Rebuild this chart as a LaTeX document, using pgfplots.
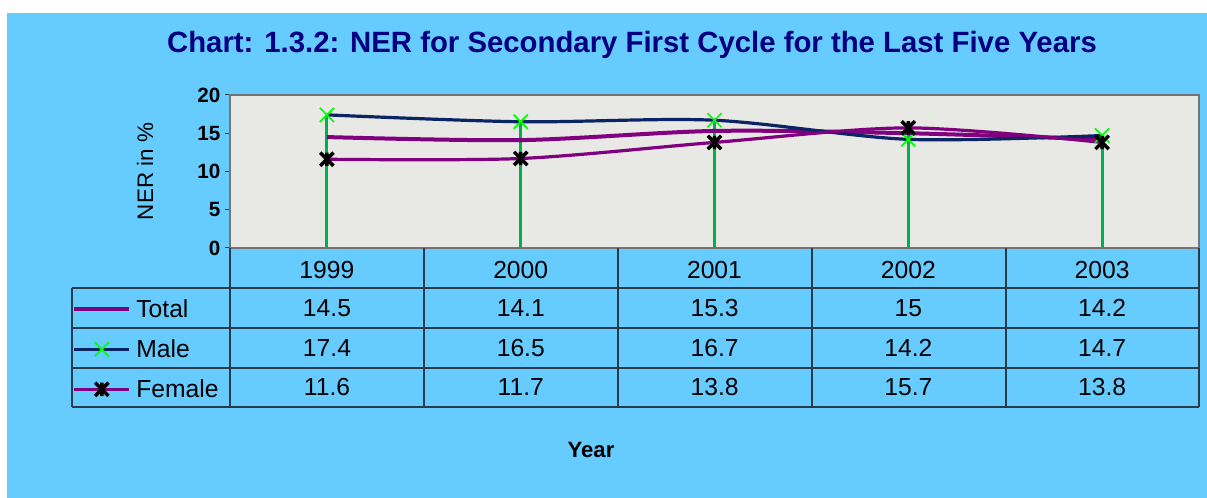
\documentclass[border=0pt]{standalone}
\usepackage{fontspec}
\setmainfont{Liberation Sans}
\usepackage{pgfplots}
\pgfplotsset{compat=1.18}
\definecolor{bgblue}{HTML}{66CCFF}
\definecolor{titlenavy}{HTML}{000080}
\definecolor{totalc}{HTML}{800080}
\definecolor{malec}{HTML}{0A2464}
\definecolor{femalec}{HTML}{800080}
\definecolor{dropg}{HTML}{00B050}
\definecolor{mgreen}{HTML}{00FF00}
\definecolor{granite}{HTML}{E8E8E5}
\definecolor{gridline}{HTML}{2A3A4A}
\pgfdeclareplotmark{xstar}{%
  \pgfpathmoveto{\pgfqpoint{-\pgfplotmarksize}{-\pgfplotmarksize}}%
  \pgfpathlineto{\pgfqpoint{\pgfplotmarksize}{\pgfplotmarksize}}%
  \pgfpathmoveto{\pgfqpoint{-\pgfplotmarksize}{\pgfplotmarksize}}%
  \pgfpathlineto{\pgfqpoint{\pgfplotmarksize}{-\pgfplotmarksize}}%
  \pgfpathmoveto{\pgfqpoint{0pt}{-\pgfplotmarksize}}%
  \pgfpathlineto{\pgfqpoint{0pt}{\pgfplotmarksize}}%
  \pgfusepathqstroke}
\begin{document}
\begin{tikzpicture}[x=0.75pt,y=0.75pt]
\fill[white] (0,0) rectangle (1207,498);
\fill[bgblue] (7,0) rectangle (1207,485);
\node[anchor=base,text=titlenavy,font=\fontsize{22}{26}\selectfont\bfseries] at (632,445) {Chart: 1.3.2: NER for Secondary First Cycle for the Last Five Years};
\begin{axis}[
  at={(172.5pt,187.5pt)}, anchor=south west,
  scale only axis, width=726.75pt, height=114.75pt,
  xmin=-0.5, xmax=4.5, ymin=0, ymax=20,
  ytick={0,5,10,15,20},
  ytick pos=left,
  xtick={0,1,2,3,4},
  xticklabels={1999,2000,2001,2002,2003},
  xticklabel style={anchor=center,yshift=-12.5pt,font=\fontsize{18.5}{22}\selectfont},
  major x tick style={draw=none},
  yticklabel style={font=\fontsize{15.5}{18}\selectfont\bfseries},
  /pgf/number format/assume math mode=true,
  tick align=outside,
  major tick length=3.75pt,
  y tick style={gridline, line width=0.75pt},
  axis line style={draw=gray!90!black, line width=1.6pt},
  axis background/.style={fill=granite},
  ylabel={NER in \%},
  ylabel style={at={(axis description cs:-0.0877,0.5)}, anchor=center, font=\fontsize{16.8}{20}\selectfont},
  clip=false,
  legend style={at={(axis description cs:-0.1630,-0.333)}, anchor=north west, draw=none, fill=none,
     inner sep=0pt, row sep=12pt, column sep=3.75pt,
     font=\fontsize{18.5}{22}\selectfont,
     nodes={inner sep=0pt, text height=14pt, text depth=4pt}},
  legend cell align=left,
  legend image code/.code={%
    \draw[#1, mark=none, yshift=1.4pt] (0pt,0pt) -- (41.25pt,0pt);
    \draw[#1, yshift=1.4pt, draw=none, only marks] plot coordinates {(20.6pt,0pt)};},
]
\addplot[ycomb, dropg, line width=2.2pt, forget plot] coordinates {(0,17.4)(1,16.5)(2,16.7)(3,15.7)(4,14.7)};
\addplot[totalc, line width=3pt, smooth, tension=0.5, mark=none] coordinates {(0,14.5)(1,14.1)(2,15.3)(3,15)(4,14.2)};
\addlegendentry{Total}
\addplot[malec, line width=2.4pt, smooth, tension=0.5, mark=x, mark size=7.5pt, mark options={mgreen, line width=1.3pt}] coordinates {(0,17.4)(1,16.5)(2,16.7)(3,14.2)(4,14.7)};
\addlegendentry{Male}
\addplot[femalec, line width=2.4pt, smooth, tension=0.5, mark=xstar, mark size=5pt, mark options={black, line width=2.6pt}] coordinates {(0,11.6)(1,11.7)(2,13.8)(3,15.7)(4,13.8)};
\addlegendentry{Female}
\end{axis}
% data table grid
\begin{scope}[gridline, line width=0.9pt]
\foreach \yy in {210,170,130,91} \draw (72,\yy) -- (1199,\yy);
\draw (72,210) -- (72,91);
\foreach \xx in {230,424,618,812,1006,1199} \draw (\xx,250) -- (\xx,91);
\end{scope}
\begin{scope}[font=\fontsize{18.5}{22}\selectfont]
\foreach \v [count=\i from 0] in {14.5,14.1,15.3,15,14.2} \node at (327+193.8*\i,190) {\v};
\foreach \v [count=\i from 0] in {17.4,16.5,16.7,14.2,14.7} \node at (327+193.8*\i,150) {\v};
\foreach \v [count=\i from 0] in {11.6,11.7,13.8,15.7,13.8} \node at (327+193.8*\i,111) {\v};
\end{scope}
\node[anchor=base,font=\fontsize{16.6}{20}\selectfont\bfseries] at (591,40) {Year};
\pgfresetboundingbox
\path (0,0) rectangle (1207,498);
\end{tikzpicture}
\end{document}
